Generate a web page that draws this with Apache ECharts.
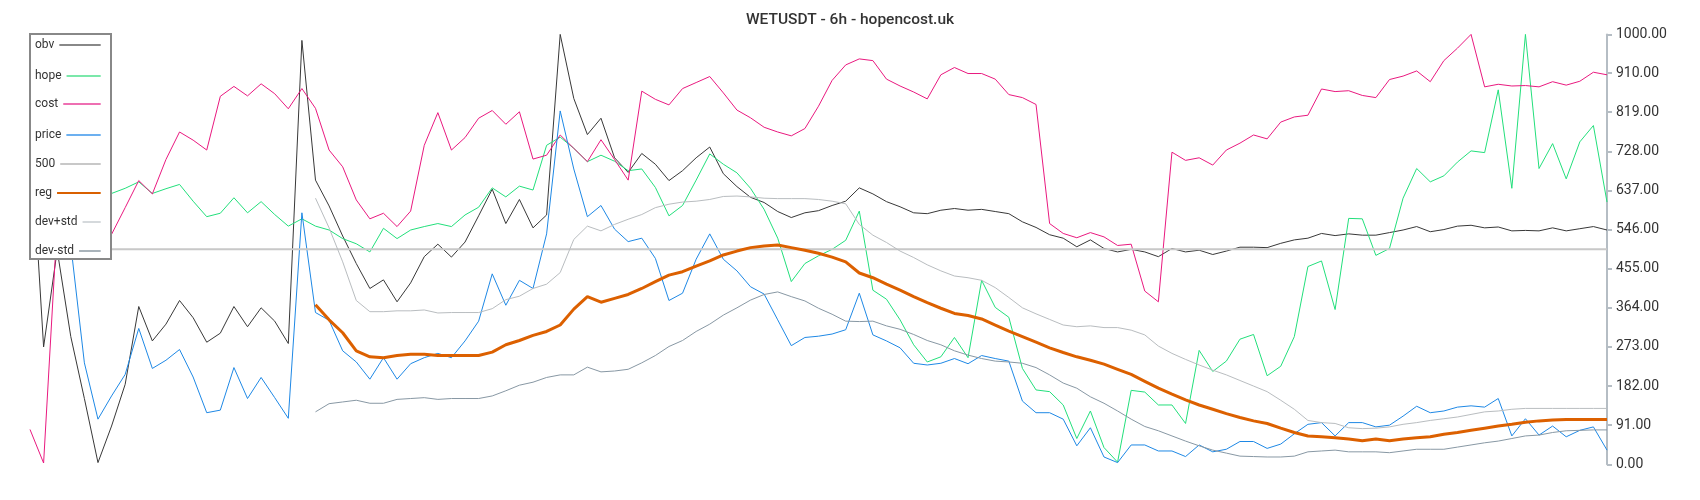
<!DOCTYPE html>
<html><head><meta charset="utf-8">
<script src="https://cdn.jsdelivr.net/npm/echarts@6/dist/echarts.min.js"></script>
<style>html,body{margin:0;padding:0;background:#fff}#c{width:1700px;height:500px}</style>
</head><body><div id="c"></div><script>
const titleText = 'WETUSDT - 6h - hopencost.uk';
const seriesNames = ['obv', 'hope', 'cost', 'price', '500', 'reg', 'dev+std', 'dev-std'];
const yTickLabels = ['0.00','91.00','182.00','273.00','364.00','455.00','546.00','637.00','728.00','819.00','910.00','1000.00'];
const pointCount = 117;
const categories = Array.from({length: pointCount}, (_, i) => String(i));

const obv = [795,273,498,297,153,4,89,186,367,287,326,381,341,284,305,367,320,364,333,281,986,661,601,531,467,409,429,378,422,483,512,482,517,578,640,560,616,550,
580,1000,851,767,805,713,679,723,698,660,683,713,738,676,646,621,609,588,574,585,590,602,612,643,629,611,599,585,583,591,595,591,593,588,583,564,551,534,
526,506,522,502,494,500,494,483,502,494,498,488,496,505,505,504,514,522,526,537,532,536,533,533,539,545,553,541,546,554,556,550,552,543,544,543,550,543,548,553,545];

const hope = [620,640,655,665,645,625,630,642,657,630,641,651,612,576,584,620,585,611,581,554,571,554,545,525,513,494,549,525,545,553,560,553,580,598,643,622,647,638,
742,761,735,704,719,705,683,687,644,578,602,661,722,698,678,642,593,526,425,467,485,500,521,589,405,384,336,278,238,250,295,248,428,365,342,223,173,169,
138,60,124,39,5,172,168,138,138,95,265,216,240,291,302,206,228,297,460,473,360,572,571,486,502,619,688,657,671,703,729,725,871,642,1000,688,746,664,750,788,610];

const cost = [81,3,560,590,620,560,535,597,660,629,709,773,754,731,856,879,857,885,862,827,874,828,731,692,615,571,584,553,589,742,818,731,760,805,823,791,820,710,
719,766,735,704,755,709,661,868,849,836,874,888,902,864,824,806,784,773,764,781,833,893,929,943,939,896,880,866,850,906,923,909,909,896,860,853,837,560,
537,527,539,529,509,512,403,378,726,707,713,696,731,747,766,757,796,808,812,873,867,869,858,853,895,903,915,890,939,968,1000,878,884,880,881,878,890,882,891,912,906];

const price = [560,540,600,510,236,105,159,209,316,223,242,267,203,120,126,225,153,202,155,107,585,353,335,264,238,198,248,198,234,248,258,248,287,333,443,370,428,409,
536,822,687,576,602,547,518,526,479,381,398,477,536,477,450,413,396,336,276,295,298,303,313,398,301,287,271,235,231,235,246,234,253,246,240,147,120,120,
105,43,85,17,4,45,45,31,31,18,45,29,35,53,53,37,47,71,93,97,66,97,97,87,91,112,135,120,124,133,136,133,153,66,106,68,89,64,79,87,33];

const level500 = 500;

// reg / dev bands start at index 21
const bandStart = 21;
const reg = [371,336,306,264,250,248,253,256,256,253,253,253,253,261,278,288,300,309,324,361,390,377,386,395,409,425,440,448,461,473,487,496,504,508,510,504,498,491,482,471,445,434,419,405,390,376,363,351,346,338,324,310,297,284,271,
260,250,242,233,221,209,193,177,163,150,138,128,118,109,101,95,84,74,66,64,62,59,55,59,55,59,62,64,70,74,79,84,89,93,98,101,103,104,104,104,104];

const devPlus = [619,550,471,381,355,355,357,357,359,352,353,353,353,362,383,391,409,419,446,523,554,543,558,570,581,597,605,610,612,616,623,624,622,619,618,618,618,616,612,606,558,533,516,496,481,464,450,438,434,428,411,388,364,350,337,
324,320,322,318,318,312,301,275,258,244,231,219,208,195,182,169,149,128,102,97,95,85,83,84,87,93,97,102,106,110,116,122,124,128,130,130,130,130,130,130,130];

const devMinus = [122,141,145,149,142,142,151,153,155,151,153,153,153,159,171,184,191,202,208,208,226,215,217,221,236,253,274,288,309,326,347,364,382,395,401,390,380,363,349,333,332,333,322,314,302,288,278,264,254,246,240,238,235,225,208,
189,177,157,142,124,105,88,78,66,54,43,33,26,19,18,17,17,19,29,31,33,29,29,29,27,31,35,35,35,40,45,50,54,60,66,68,74,78,79,80,80];

const lineColors = ['#383838', '#22df7b', '#e9197f', '#1e88e5', '#c8c8c8', '#dc6000', '#b9bdc0', '#8898a4'];
const iconColors = ['#888888', '#7be8aa', '#ee6fb2', '#6cb0f0', '#c8c8c8', '#d96000', '#d5d9dc', '#a9b3ba'];
const lineWidths = [1, 1, 1, 1, 2, 3, 1, 1];
const legendRows = [45, 76, 104, 135, 164, 193, 222, 251];

const pad = arr => new Array(bandStart).fill(null).concat(arr);
const seriesData = [obv, hope, cost, price, new Array(pointCount).fill(level500), pad(reg), pad(devPlus), pad(devMinus)];

const ctx = document.createElement('canvas').getContext('2d');
ctx.font = '12px Roboto';
const legendLeft = 35, legendIconEnd = 100.7;
const legends = seriesNames.map((n, k) => {
  const tw = ctx.measureText(n).width;
  return {
    data: [{name: n, icon: 'rect', itemStyle: {color: iconColors[k]}}],
    orient: 'vertical', align: 'right', left: legendLeft, top: legendRows[k] - 6,
    padding: 0, itemGap: 0, itemWidth: Math.max(8, legendIconEnd - legendLeft - tw - 5), itemHeight: 2,
    textStyle: {fontSize: 12, color: '#333', fontFamily: 'Roboto'},
    selectedMode: false
  };
});

const chart = echarts.init(document.getElementById('c'));
chart.setOption({
  animation: false,
  backgroundColor: '#fff',
  title: {text: titleText, left: 'center', top: 12, padding: 0,
    textStyle: {fontSize: 15.5, fontWeight: 500, color: '#333', fontFamily: 'Roboto'}},
  legend: legends,
  graphic: {elements: [{type: 'rect', z: 3, shape: {x: 30, y: 34, width: 81, height: 225},
    style: {fill: '#fff', stroke: '#888', lineWidth: 2}}]},
  grid: {left: 30, right: 93, top: 34.4, bottom: 35.7, containLabel: false},
  xAxis: {type: 'category', data: categories, boundaryGap: false, show: false},
  yAxis: {type: 'value', position: 'right', min: 0, max: 1000, interval: 91,
    splitLine: {show: false},
    axisLine: {show: true, lineStyle: {color: '#b5bdc4', width: 2}},
    axisTick: {show: true, length: 5, lineStyle: {color: '#b5bdc4', width: 2}},
    axisLabel: {fontSize: 14, color: '#333', fontFamily: 'Roboto', margin: 9,
      formatter: v => { const s = v.toFixed(2); return yTickLabels.includes(s) ? s : ''; }}},
  series: seriesNames.map((n, k) => ({
    name: n, type: 'line', data: seriesData[k], symbol: 'none', showSymbol: false,
    connectNulls: false, silent: true, z: 2,
    lineStyle: {color: lineColors[k], width: lineWidths[k]},
    itemStyle: {color: lineColors[k]}
  }))
});
</script></body></html>
